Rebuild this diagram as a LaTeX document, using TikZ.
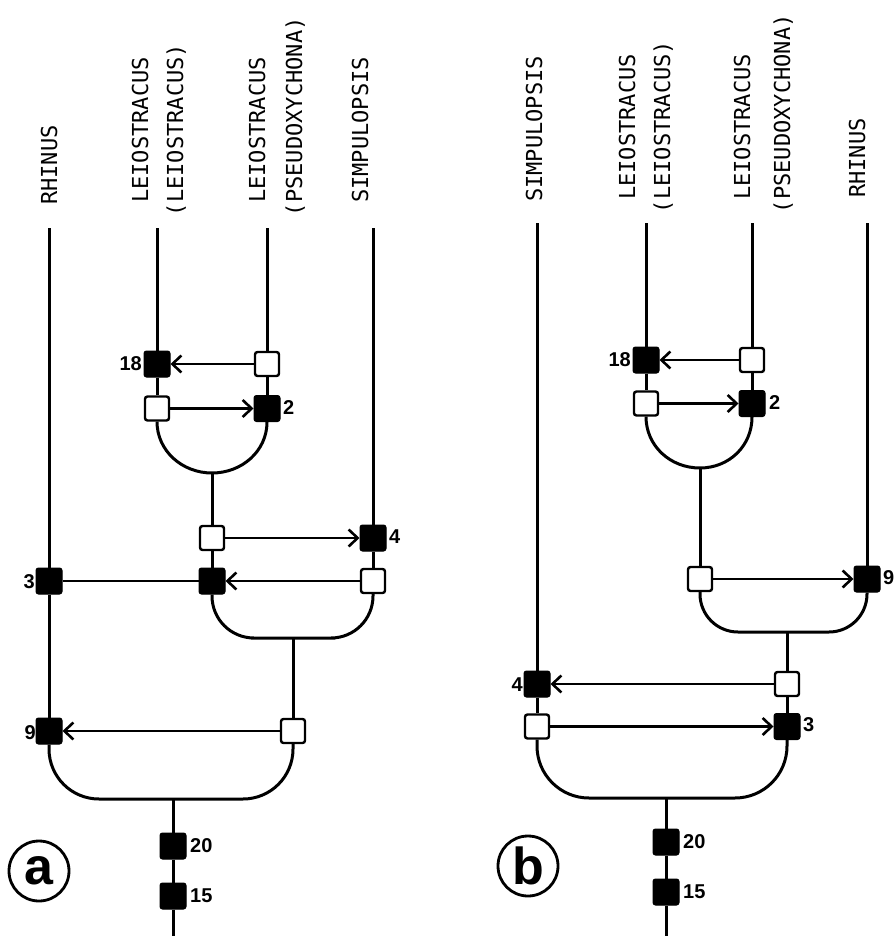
\documentclass[tikz,border=0pt]{standalone}
\usepackage{fontspec}
\setmainfont{Liberation Sans}
\newfontfamily\labfont{DejaVu Sans Mono}
\usetikzlibrary{arrows.meta}
\begin{document}
\begin{tikzpicture}[x=1pt,y=-1pt,
  tree/.style={line width=3pt},
  blk/.style={draw=black, fill=black, line width=1pt, rounded corners=2.5pt, minimum size=26pt, inner sep=0pt},
  wht/.style={draw=black, fill=white, line width=2.4pt, rounded corners=2.5pt, minimum size=24pt, inner sep=0pt},
  arr/.style={line width=2.4pt, -{Straight Barb[length=9pt,width=17pt,line width=2.6pt]}},
  plain/.style={line width=2.4pt},
  taxon/.style={rotate=90, anchor=base west, inner sep=0pt, font=\labfont\fontsize{22}{22}\selectfont},
  num/.style={inner sep=0pt, font=\bfseries\fontsize{20}{20}\selectfont},
  panel/.style={circle, draw, line width=2.8pt, minimum size=60pt, inner sep=0pt, font=\bfseries\fontsize{52}{52}\selectfont}
]
\fill[white] (0,0) rectangle (895,936);
\useasboundingbox (0,0) rectangle (895,936);

% ================= Panel a =================
\node[taxon] (laR) at (57,205) {RHINUS};
\node[taxon] (laL1) at (148,203) {LEIOSTRACUS};
\node[taxon] (laL2) at (183,203) {\llap{(}LEIOSTRACUS)};
\node[taxon] (laP1) at (265,203) {LEIOSTRACUS};
\node[taxon] (laP2) at (302,203) {\llap{(}PSEUDOXYCHONA)};
\node[taxon] (laS) at (368,203) {SIMPULOPSIS};

\coordinate (atR) at (49,228);
\coordinate (atL) at (157,228);
\coordinate (atP) at (267,228);
\coordinate (atS) at (373,228);

\node[blk] (a18) at (157,364) {};
\node[wht] (aw1) at (157,408.5) {};
\node[wht] (aw2) at (267,364) {};
\node[blk] (a2) at (267,408.5) {};
\coordinate (aj1) at (212,473);
\node[wht] (aw3) at (212,538) {};
\node[blk] (ab5) at (212,581) {};
\node[blk] (a4) at (373,538) {};
\node[wht] (aw4) at (373,581) {};
\node[blk] (a3) at (49,581) {};
\coordinate (aj2) at (293,638);
\node[wht] (aw5) at (293,731) {};
\node[blk] (a9) at (49,731) {};
\coordinate (aj3) at (173,799);
\node[blk] (a20) at (173,846) {};
\node[blk] (a15) at (173,896) {};
\coordinate (aend) at (173,936);

\draw[tree] (atR) -- (a3);
\draw[tree] (a3) -- (a9);
\draw[tree] (atL) -- (a18);
\draw[tree] (a18) -- (aw1);
\draw[tree] (atP) -- (aw2);
\draw[tree] (aw2) -- (a2);
\draw[tree] (atS) -- (a4);
\draw[tree] (a4) -- (aw4);
\draw[tree] (aw1.south) .. controls +(0,29) and +(-30,0) .. (aj1)
                         .. controls +(30,0) and +(0,29) .. (a2.south);
\draw[tree] (aj1) -- (aw3);
\draw[tree] (aw3) -- (ab5);
\draw[tree, rounded corners=42pt] (ab5.south) |- (aj2) -| (aw4.south);
\draw[tree] (aj2) -- (aw5);
\draw[tree, rounded corners=50pt] (a9.south) |- (aj3) -| (aw5.south);
\draw[tree] (aj3) -- (a20);
\draw[tree] (a20) -- (a15);
\draw[tree] (a15) -- (aend);

\draw[arr] (aw2) -- (a18);
\draw[arr] (aw1) -- (a2);
\draw[arr] (aw3) -- (a4);
\draw[arr] (aw4) -- (ab5);
\draw[plain] (ab5) -- (a3);
\draw[arr] (aw5) -- (a9);

\node[num, anchor=east] (na18) at (142,364) {18};
\node[num, anchor=west] (na2) at (283,408) {2};
\node[num, anchor=west] (na4) at (389,537) {4};
\node[num, anchor=east] (na3) at (35,582) {3};
\node[num, anchor=east] (na9) at (36,733) {9};
\node[num, anchor=west] (na20) at (190,846) {20};
\node[num, anchor=west] (na15) at (190,896) {15};

\node[panel] (pa) at (39,871) {a};

% ================= Panel b =================
\node[taxon] (lbS) at (542,202) {SIMPULOPSIS};
\node[taxon] (lbL1) at (635,200) {LEIOSTRACUS};
\node[taxon] (lbL2) at (670,200) {\llap{(}LEIOSTRACUS)};
\node[taxon] (lbP1) at (750,200) {LEIOSTRACUS};
\node[taxon] (lbP2) at (790,200) {\llap{(}PSEUDOXYCHONA)};
\node[taxon] (lbR) at (865,198) {RHINUS};

\coordinate (btS) at (537,223);
\coordinate (btL) at (646,223);
\coordinate (btP) at (752,223);
\coordinate (btR) at (867,223);

\node[blk] (b18) at (646,360) {};
\node[wht] (bw1) at (646,403.5) {};
\node[wht] (bw2) at (752,360) {};
\node[blk] (b2) at (752,403.5) {};
\coordinate (bj1) at (700,468);
\node[wht] (bw3) at (700,579) {};
\node[blk] (b9) at (867,579) {};
\coordinate (bj2) at (787,632);
\node[wht] (bw5) at (787,684) {};
\node[blk] (b3) at (787,726.5) {};
\node[blk] (b4) at (537,684) {};
\node[wht] (bw4) at (537,726.5) {};
\coordinate (bj3) at (666,798);
\node[blk] (b20) at (666,842) {};
\node[blk] (b15) at (666,892) {};
\coordinate (bend) at (666,936);

\draw[tree] (btS) -- (b4);
\draw[tree] (b4) -- (bw4);
\draw[tree] (btL) -- (b18);
\draw[tree] (b18) -- (bw1);
\draw[tree] (btP) -- (bw2);
\draw[tree] (bw2) -- (b2);
\draw[tree] (btR) -- (b9);
\draw[tree] (bw1.south) .. controls +(0,29) and +(-30,0) .. (bj1)
                         .. controls +(29,0) and +(0,29) .. (b2.south);
\draw[tree] (bj1) -- (bw3);
\draw[tree, rounded corners=38pt] (bw3.south) |- (bj2) -| (b9.south);
\draw[tree] (bj2) -- (bw5);
\draw[tree] (bw5) -- (b3);
\draw[tree, rounded corners=52pt] (bw4.south) |- (bj3) -| (b3.south);
\draw[tree] (bj3) -- (b20);
\draw[tree] (b20) -- (b15);
\draw[tree] (b15) -- (bend);

\draw[arr] (bw2) -- (b18);
\draw[arr] (bw1) -- (b2);
\draw[arr] (bw3) -- (b9);
\draw[arr] (bw5) -- (b4);
\draw[arr] (bw4) -- (b3);

\node[num, anchor=east] (nb18) at (631,360) {18};
\node[num, anchor=west] (nb2) at (769,403) {2};
\node[num, anchor=west] (nb9) at (883,578) {9};
\node[num, anchor=east] (nb4) at (523,685) {4};
\node[num, anchor=west] (nb3) at (803,725) {3};
\node[num, anchor=west] (nb20) at (683,842) {20};
\node[num, anchor=west] (nb15) at (683,892) {15};

\node[panel] (pb) at (528,866) {b};
\end{tikzpicture}
\end{document}
